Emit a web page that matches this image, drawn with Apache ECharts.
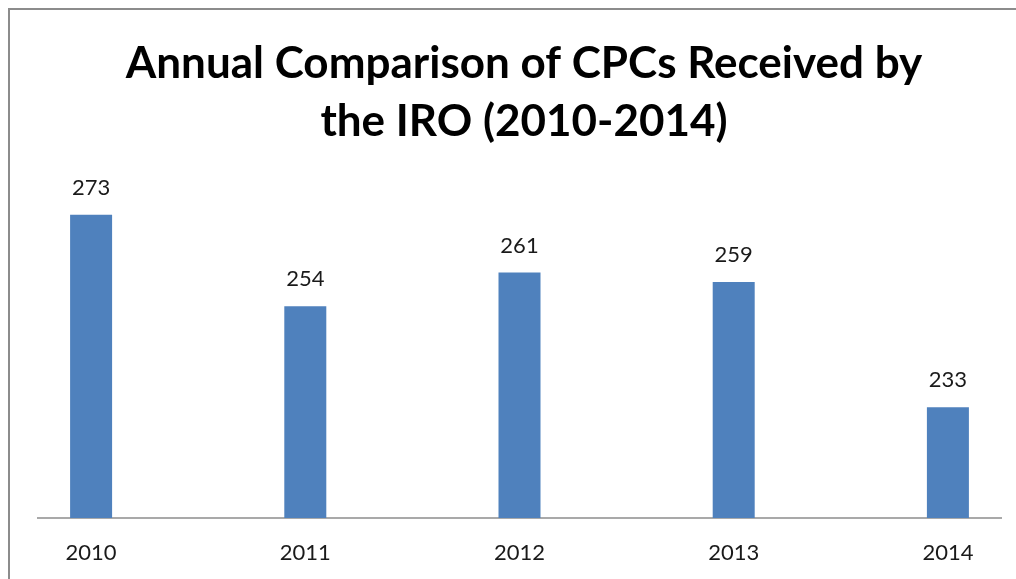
<!DOCTYPE html>
<html>
<head>
<meta charset="utf-8">
<script src="https://cdn.jsdelivr.net/npm/echarts@6/dist/echarts.min.js"></script>
<style>
  html, body { margin: 0; padding: 0; background: #fff; overflow: hidden; }
  /* the plot runs past both edges of the picture, so the box is wider and shifted left */
  #chart { position: absolute; left: -16px; top: 0; width: 1071px; height: 579px; }
</style>
</head>
<body>
<div id="chart"></div>
<script>
// data
const years = ['2010', '2011', '2012', '2013', '2014']
const cpcCounts = [273, 254, 261, 259, 233]

const chart = echarts.init(document.getElementById('chart'))

const option = {
  backgroundColor: '#fff',
  animation: false,
  title: {
    text: 'Annual Comparison of CPCs Received by\nthe IRO (2010-2014)',
    left: 535,
    textAlign: 'center',
    top: 30,
    textStyle: {
      fontFamily: 'Lato',
      fontWeight: 'bold',
      fontSize: 44,
      lineHeight: 58,
      color: '#000'
    }
  },
  grid: {
    left: 0,
    right: 0,
    top: 181,
    bottom: 61
  },
  xAxis: {
    type: 'category',
    data: years,
    axisLine: { show: false },
    axisTick: { show: false },
    axisLabel: {
      margin: 24,
      fontFamily: 'Lato',
      fontSize: 22,
      color: '#1a1a1a'
    }
  },
  yAxis: {
    type: 'value',
    min: 210,
    max: 280,
    show: false,
    splitLine: { show: false }
  },
  series: [
    {
      type: 'bar',
      data: cpcCounts,
      barWidth: 42,
      itemStyle: { color: '#4F81BD' },
      label: {
        show: true,
        position: 'top',
        distance: 16,
        fontFamily: 'Lato',
        fontSize: 22,
        color: '#1a1a1a'
      }
    }
  ],
  // chart frame and baseline
  graphic: [
    {
      type: 'polyline',
      shape: { points: [[1032, 9], [25, 9], [25, 579]] },
      style: { stroke: '#8c8c8c', lineWidth: 2, fill: null },
      silent: true
    },
    {
      type: 'line',
      shape: { x1: 53, y1: 518, x2: 1018, y2: 518 },
      style: { stroke: '#8c8c8c', lineWidth: 1.5 },
      silent: true
    }
  ]
}

chart.setOption(option)
</script>
</body>
</html>
